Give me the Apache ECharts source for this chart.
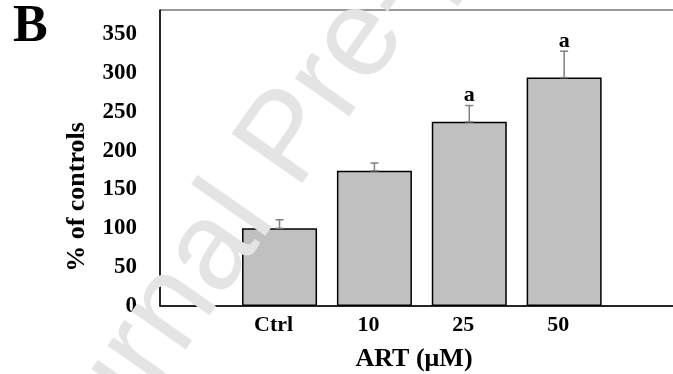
<!DOCTYPE html>
<html><head><meta charset="utf-8">
<script src="https://cdn.jsdelivr.net/npm/echarts@6/dist/echarts.min.js"></script>
<style>html,body{margin:0;padding:0;background:#fff}#c{width:673px;height:374px}</style>
</head><body><div id="c"></div>
<script>
const categories = ["Ctrl", "10", "25", "50"];
const means = [100, 174, 237, 294];
const errors = [11, 10, 21, 34];
const sigLetters = ["", "", "a", "a"];
const yTickStep = 50;

const serif = '"Liberation Serif", "Times New Roman", serif';
const chart = echarts.init(document.getElementById('c'));
chart.setOption({
  animation: false,
  grid: {left: 160, right: -5, top: 10, bottom: 68, show: true, borderColor: '#333', borderWidth: 1, outerBoundsMode: 'none'},
  xAxis: {
    type: 'value', min: -1.26, max: 4.2,
    splitLine: {show: false},
    axisLine: {show: true, onZero: false, lineStyle: {color: '#000', width: 1.5}},
    axisTick: {show: false},
    axisLabel: {
      customValues: categories.map((c, i) => i),
      formatter: v => categories[Math.round(v)],
      fontFamily: serif, fontWeight: 'bold', fontSize: 22, color: '#000',
      margin: 8, padding: [0, 12, 0, 0]
    },
    name: 'ART (μM)', nameLocation: 'middle', nameGap: 40,
    nameTextStyle: {fontFamily: serif, fontWeight: 'bold', fontSize: 26, color: '#000', padding: [0, 10, 0, 0]}
  },
  yAxis: {
    type: 'value', min: 0, max: 381, interval: yTickStep,
    splitLine: {show: false},
    axisLine: {show: true, onZero: false, lineStyle: {color: '#000', width: 1.5}},
    axisTick: {show: false},
    axisLabel: {showMaxLabel: false, margin: 23, fontFamily: serif, fontWeight: 'bold', fontSize: 23, color: '#000'},
    name: '% of controls', nameLocation: 'middle', nameGap: 70,
    nameTextStyle: {fontFamily: serif, fontWeight: 'bold', fontSize: 26, color: '#000', padding: [0, 78, 0, 0]}
  },
  graphic: [
    {type: 'text', x: 13, y: 536, rotation: 55 * Math.PI / 180, z: 100, zlevel: 0, silent: true,
     style: {text: 'Journal Pre-proof', font: '125px "Liberation Sans"', fill: '#e4e4e4', align: 'left', verticalAlign: 'middle'}},
    {type: 'text', x: 13, y: 28, z: 10,
     style: {text: 'B', font: 'bold 52px "Liberation Serif"', fill: '#000', align: 'left', verticalAlign: 'middle'}}
  ],
  series: [
    {
      type: 'bar', barWidth: 75,
      data: means.map((m, i) => [i, m]),
      itemStyle: {color: '#c0c0c0', borderColor: '#000', borderWidth: 1.5}
    },
    {
      type: 'custom', z: 5,
      data: means.map((m, i) => [i, m, errors[i]]),
      renderItem: function (params, api) {
        const i = api.value(0), m = api.value(1), e = api.value(2);
        const p0 = api.coord([i, m]), p1 = api.coord([i, m + e]);
        const cw = 4;
        const st = {stroke: '#808080', lineWidth: 1.5};
        const children = [
          {type: 'line', shape: {x1: p0[0], y1: p0[1], x2: p1[0], y2: p1[1]}, style: st},
          {type: 'line', shape: {x1: p1[0] - cw, y1: p1[1], x2: p1[0] + cw, y2: p1[1]}, style: st},
          {type: 'line', shape: {x1: p0[0] - cw, y1: p0[1], x2: p0[0] + cw, y2: p0[1]}, style: st}
        ];
        const s = sigLetters[params.dataIndex];
        if (s) children.push({type: 'text', x: p1[0], y: p1[1] + 1,
          style: {text: s, align: 'center', verticalAlign: 'bottom', font: 'bold 22px "Liberation Serif"', fill: '#000'}});
        return {type: 'group', children: children};
      }
    }
  ]
});
</script></body></html>
